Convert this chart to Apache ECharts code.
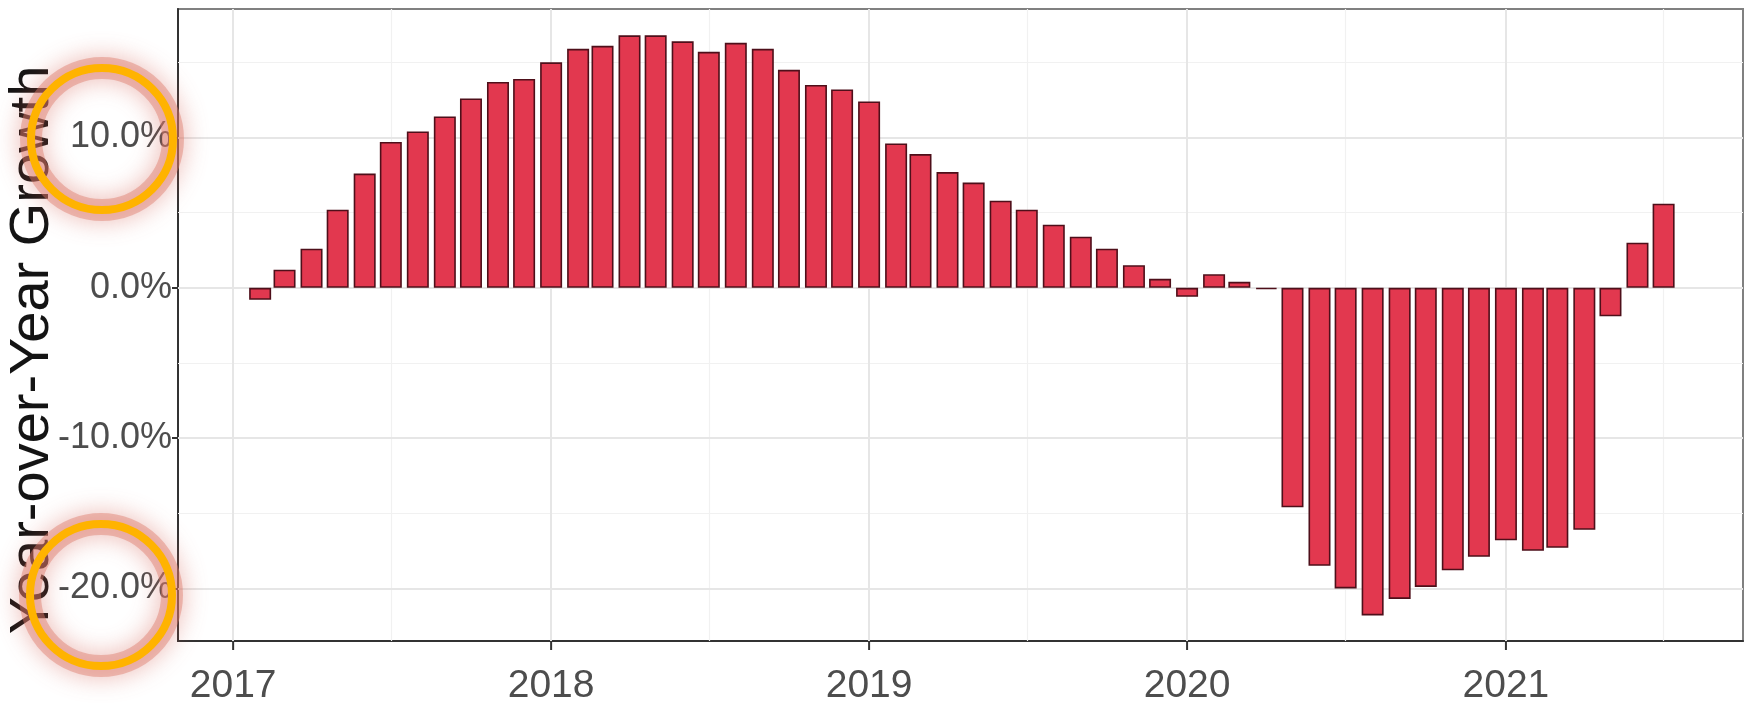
<!DOCTYPE html>
<html>
<head>
<meta charset="utf-8">
<script src="https://cdn.jsdelivr.net/npm/echarts@6/dist/echarts.min.js"></script>
<style>
html,body{margin:0;padding:0;background:#fff;}
#chart{width:1750px;height:706px;}
</style>
</head>
<body>
<div id="chart"></div>
<script>
// Monthly observation dates (bars)
const months = [
  '2017-02-01','2017-03-01','2017-04-01','2017-05-01','2017-06-01','2017-07-01','2017-08-01','2017-09-01','2017-10-01','2017-11-01','2017-12-01','2018-01-01',
  '2018-02-01','2018-03-01','2018-04-01','2018-05-01','2018-06-01','2018-07-01','2018-08-01','2018-09-01','2018-10-01','2018-11-01','2018-12-01','2019-01-01',
  '2019-02-01','2019-03-01','2019-04-01','2019-05-01','2019-06-01','2019-07-01','2019-08-01','2019-09-01','2019-10-01','2019-11-01','2019-12-01','2020-01-01',
  '2020-02-01','2020-03-01','2020-04-01','2020-05-01','2020-06-01','2020-07-01','2020-08-01','2020-09-01','2020-10-01','2020-11-01','2020-12-01','2021-01-01',
  '2021-02-01','2021-03-01','2021-04-01','2021-05-01','2021-06-01','2021-07-01'
];
// Year-over-year growth, percent
const growth = [
  -0.8, 1.2, 2.6, 5.2, 7.6, 9.7, 10.4, 11.4, 12.6, 13.7, 13.9, 15.0,
  15.9, 16.1, 16.8, 16.8, 16.4, 15.7, 16.3, 15.9, 14.5, 13.5, 13.2, 12.4,
  9.6, 8.9, 7.7, 7.0, 5.8, 5.2, 4.2, 3.4, 2.6, 1.5, 0.6, -0.6,
  0.9, 0.4, -0.1, -14.6, -18.5, -20.0, -21.8, -20.7, -19.9, -18.8, -17.9, -16.8,
  -17.5, -17.3, -16.1, -1.9, 3.0, 5.6
];
// Axis breaks
const yearTicks = ['2017-01-01','2018-01-01','2019-01-01','2020-01-01','2021-01-01'];
const yearMinor = ['2017-07-01','2018-07-01','2019-07-01','2020-07-01','2021-07-01'];
const yMajor = [-20, -10, 0, 10];
const yMinor = [-15, -5, 5, 15];
// configured x limits (ECharts widens a bar base axis by half a bar on each side)
const xRange = ['2016-11-11T08:00:00Z', '2021-09-17T12:00:00Z'];
const yRange = [-23.5, 18.55];
const yTitle = 'Year-over-Year Growth';

const ts = s => Date.parse(s.length === 10 ? s + 'T00:00:00Z' : s);
const chart = echarts.init(document.getElementById('chart'), null, {renderer: 'canvas'});

const labelFont = "'Liberation Sans', Arial, sans-serif";
const majorStyle = {color: '#E6E6E6', width: 2, type: 'solid'};
const minorStyle = {color: '#F1F1F1', width: 1.2, type: 'solid'};

const gridLines = []
  .concat(yMinor.map(v => ({yAxis: v, lineStyle: minorStyle})))
  .concat(yearMinor.map(d => ({xAxis: ts(d), lineStyle: minorStyle})))
  .concat(yMajor.map(v => ({yAxis: v, lineStyle: majorStyle})))
  .concat(yearTicks.map(d => ({xAxis: ts(d), lineStyle: majorStyle})));

const yearSet = new Set(yearTicks.map(ts));

const ringGlow = {fill: 'none', stroke: 'rgba(222,125,108,0.45)', lineWidth: 22, shadowBlur: 24, shadowColor: 'rgba(210,90,75,0.95)'};
const ringLine = {fill: 'none', stroke: '#FFB300', lineWidth: 8};

const option = {
  useUTC: true,
  animation: false,
  backgroundColor: '#ffffff',
  grid: {left: 178, right: 7, top: 9, bottom: 63, show: true, borderColor: '#808080', borderWidth: 2, backgroundColor: 'transparent'},
  xAxis: {
    type: 'time',
    min: ts(xRange[0]), max: ts(xRange[1]),
    minInterval: 365 * 24 * 3600 * 1000,
    axisLine: {show: true, onZero: false, lineStyle: {color: '#333333', width: 2}},
    axisTick: {show: false},
    axisLabel: {
      formatter: v => yearSet.has(v) ? String(new Date(v).getUTCFullYear()) : '',
      showMinLabel: false, showMaxLabel: false,
      color: '#4D4D4D', fontSize: 39, fontFamily: labelFont, margin: 26
    },
    splitLine: {show: false},
    minorSplitLine: {show: false}
  },
  yAxis: {
    type: 'value',
    min: yRange[0], max: yRange[1],
    axisLine: {show: true, onZero: false, lineStyle: {color: '#333333', width: 2}},
    axisTick: {show: true, length: 6, lineStyle: {color: '#333333', width: 2}, customValues: yMajor},
    axisLabel: {
      customValues: yMajor,
      formatter: v => v.toFixed(1) + '%',
      color: '#4D4D4D', fontSize: 36, fontFamily: labelFont, margin: 6
    },
    splitLine: {show: false}
  },
  series: [
    {
      type: 'line', data: [], z: 1, silent: true,
      markLine: {z: 1, silent: true, symbol: ['none', 'none'], label: {show: false}, animation: false, data: gridLines}
    },
    {
      type: 'bar', z: 3,
      barWidth: 22,
      data: months.map((m, i) => [ts(m), growth[i]]),
      itemStyle: {color: '#E2384F', borderColor: '#4E0F1A', borderWidth: 1.6}
    }
  ],
  graphic: [
    {
      type: 'text', z: 50, x: 33, y: 350, rotation: Math.PI / 2,
      style: {text: yTitle, fill: '#141414', font: "56px 'Liberation Sans', Arial, sans-serif", align: 'center', verticalAlign: 'middle'}
    },
    {type: 'circle', z: 99, shape: {cx: 102, cy: 139, r: 71}, style: ringGlow},
    {type: 'circle', z: 100, shape: {cx: 102, cy: 139, r: 71}, style: ringLine},
    {type: 'circle', z: 99, shape: {cx: 101, cy: 595, r: 71}, style: ringGlow},
    {type: 'circle', z: 100, shape: {cx: 101, cy: 595, r: 71}, style: ringLine}
  ]
};
chart.setOption(option);

// x-axis tick marks at year starts, positioned through the axis scale
function drawXTicks() {
  const els = yearTicks.map(d => {
    const p = chart.convertToPixel({xAxisIndex: 0, yAxisIndex: 0}, [ts(d), yRange[0]]);
    return {type: 'line', z: 20, shape: {x1: p[0], y1: p[1], x2: p[0], y2: p[1] + 9}, style: {stroke: '#333333', lineWidth: 2}};
  });
  chart.setOption({graphic: option.graphic.concat(els)}, {replaceMerge: ['graphic']});
}
drawXTicks();
</script>
</body>
</html>
